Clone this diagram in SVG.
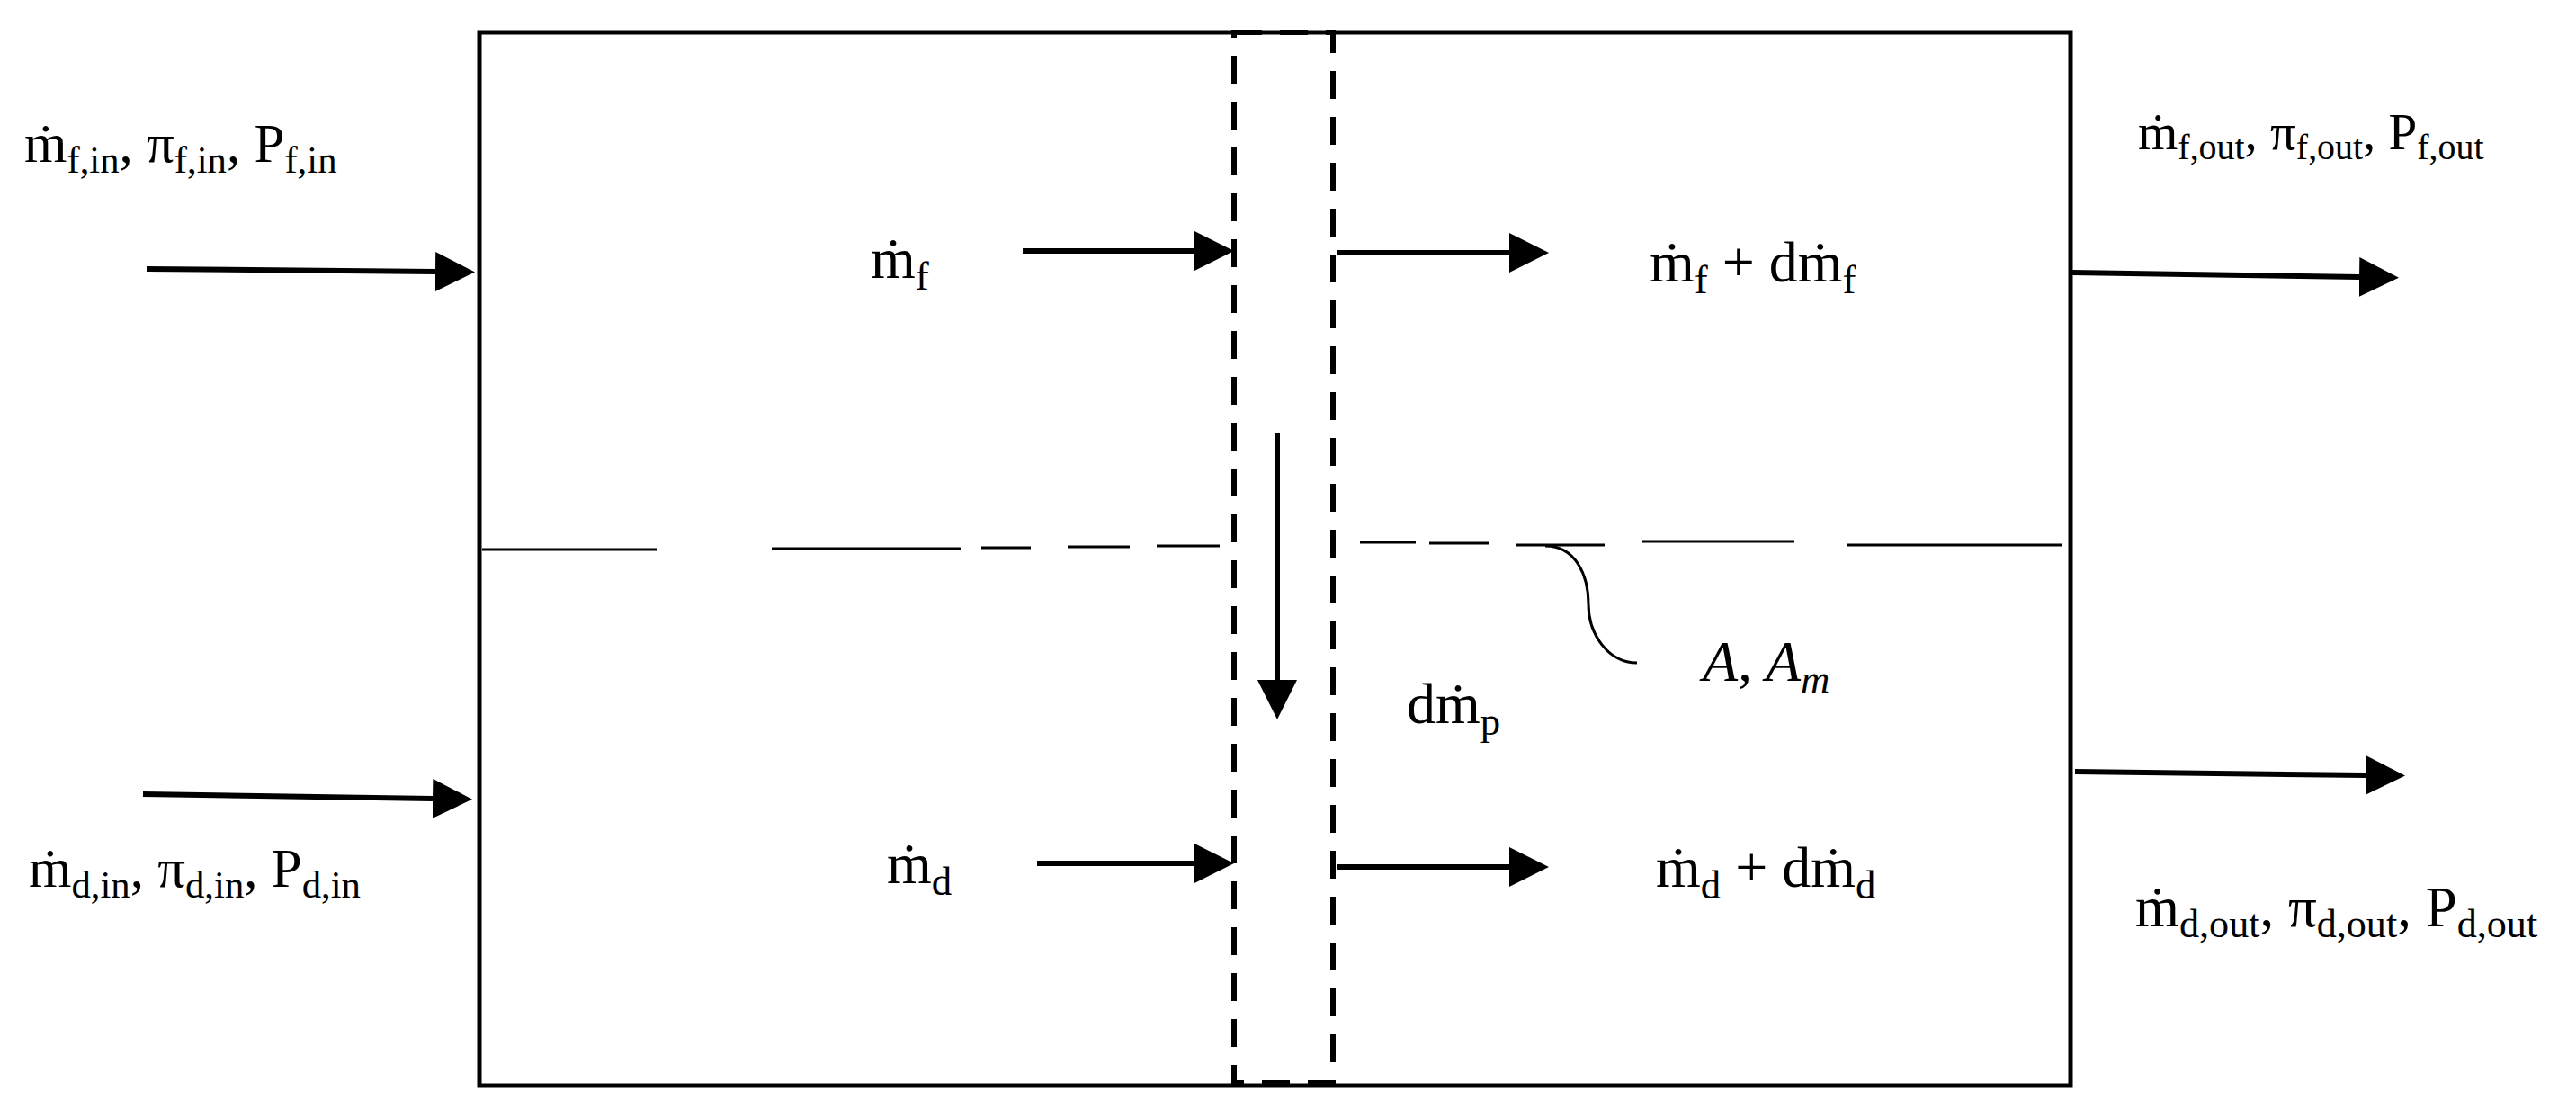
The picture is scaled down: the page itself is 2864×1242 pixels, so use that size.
<svg xmlns="http://www.w3.org/2000/svg" width="2864" height="1242" viewBox="0 0 2864 1242">
<style>
text{font-family:"Liberation Serif","DejaVu Serif",serif;fill:#000}
.lbl{font-size:61px}
.mid{font-size:64px}
.sub{font-size:70%}
.arr{stroke:#000;stroke-width:6;fill:none;marker-end:url(#ah)}
.mem{stroke:#000;stroke-width:3;fill:none}
</style>
<defs>
<marker id="ah" markerUnits="userSpaceOnUse" markerWidth="44" markerHeight="44" refX="0" refY="22" orient="auto" viewBox="0 0 44 44">
<path d="M0,0 L44,22 L0,44 z" fill="#000"/>
</marker>
</defs>
<rect width="2864" height="1242" fill="#fff"/>
<g id="module">
<rect x="533" y="36" width="1769" height="1171" fill="none" stroke="#000" stroke-width="5"/>
</g>
<g id="element">
<rect x="1372" y="36" width="110" height="1168" fill="none" stroke="#000" stroke-width="6" stroke-dasharray="31 20"/>
</g>
<g id="membrane">
<path class="mem" d="M536,611 L731,611 M858,610 L1068,610 M1091,609 L1146,609 M1187,608 L1256,608 M1286,607 L1356,607"/>
<path class="mem" d="M1512,603 L1574,603 M1589,604 L1656,604 M1686,606 L1784,606 M1826,602 L1995,602 M2053,606 L2293,606"/>
<path class="mem" d="M1718,607 C1752,607 1766,640 1766,672 C1766,705 1788,737 1820,737"/>
</g>
<g id="connectors">
<path class="arr" d="M163,299 L484,302"/>
<path class="arr" d="M159,883 L481,888"/>
<path class="arr" d="M1137,279 L1328,279"/>
<path class="arr" d="M1153,960 L1328,960"/>
<path class="arr" d="M1487,281 L1678,281"/>
<path class="arr" d="M1487,964 L1678,964"/>
<path class="arr" d="M1420,481 L1420,756"/>
<path class="arr" d="M2304,303 L2623,308"/>
<path class="arr" d="M2307,858 L2630,862"/>
</g>
<g id="labels">
<text class="lbl" x="27" y="180">ṁ<tspan class="sub" dy="12">f,in</tspan><tspan dy="-12">, π</tspan><tspan class="sub" dy="12">f,in</tspan><tspan dy="-12">, P</tspan><tspan class="sub" dy="12">f,in</tspan></text>
<text class="lbl" x="32" y="986">ṁ<tspan class="sub" dy="12">d,in</tspan><tspan dy="-12">, π</tspan><tspan class="sub" dy="12">d,in</tspan><tspan dy="-12">, P</tspan><tspan class="sub" dy="12">d,in</tspan></text>
<text class="lbl" x="2377" y="166" style="font-size:57px">ṁ<tspan class="sub" dy="11">f,out</tspan><tspan dy="-11">, π</tspan><tspan class="sub" dy="11">f,out</tspan><tspan dy="-11">, P</tspan><tspan class="sub" dy="11">f,out</tspan></text>
<text class="lbl" x="2374" y="1030" style="font-size:63px">ṁ<tspan class="sub" dy="12">d,out</tspan><tspan dy="-12">, π</tspan><tspan class="sub" dy="12">d,out</tspan><tspan dy="-12">, P</tspan><tspan class="sub" dy="12">d,out</tspan></text>
<text class="mid" x="968" y="309">ṁ<tspan class="sub" dy="13">f</tspan></text>
<text class="mid" x="986" y="982">ṁ<tspan class="sub" dy="13">d</tspan></text>
<text class="mid" x="1834" y="313">ṁ<tspan class="sub" dy="13">f</tspan><tspan dy="-13"> + dṁ</tspan><tspan class="sub" dy="13">f</tspan></text>
<text class="mid" x="1841" y="986">ṁ<tspan class="sub" dy="13">d</tspan><tspan dy="-13"> + dṁ</tspan><tspan class="sub" dy="13">d</tspan></text>
<text class="mid" x="1564" y="804">dṁ<tspan class="sub" dy="13">p</tspan></text>
<text class="mid" x="1893" y="757" font-style="italic">A, A<tspan class="sub" dy="13">m</tspan></text>
</g>
</svg>
